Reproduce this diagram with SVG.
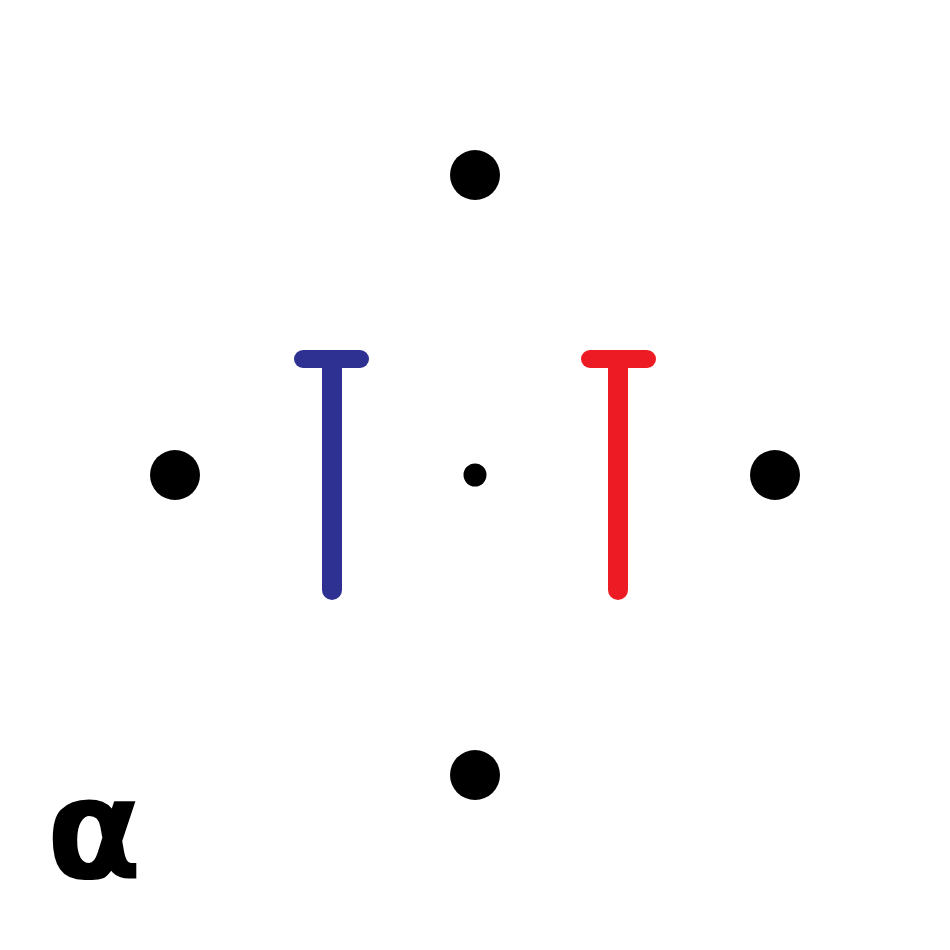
<svg xmlns="http://www.w3.org/2000/svg" width="950" height="950" viewBox="0 0 950 950">
<style>
.dot{fill:#000}
.blue{stroke:#2e3192;stroke-linecap:round;fill:none}
.red{stroke:#ed1c24;stroke-linecap:round;fill:none}
.lbl{font-family:"DejaVu Sans",sans-serif;font-weight:bold;fill:#000}
</style>
<rect width="950" height="950" fill="#fff"/>
<g id="dot-top"><circle class="dot" cx="475" cy="175" r="25"/></g>
<g id="dot-left"><circle class="dot" cx="175" cy="475" r="25"/></g>
<g id="dot-right"><circle class="dot" cx="775" cy="475" r="25"/></g>
<g id="dot-bottom"><circle class="dot" cx="475" cy="775" r="25"/></g>
<g id="dot-center"><circle class="dot" cx="475" cy="475" r="11.5"/></g>
<g id="blue-t">
<line class="blue" x1="303" y1="359" x2="360" y2="359" stroke-width="18"/>
<line class="blue" x1="332" y1="364" x2="332" y2="590" stroke-width="20"/>
</g>
<g id="red-t">
<line class="red" x1="590" y1="359" x2="647" y2="359" stroke-width="18"/>
<line class="red" x1="618" y1="364" x2="618" y2="590" stroke-width="20"/>
</g>
<g id="connectors"></g>
<text class="lbl" x="46" y="878" font-size="140">α</text>
</svg>
